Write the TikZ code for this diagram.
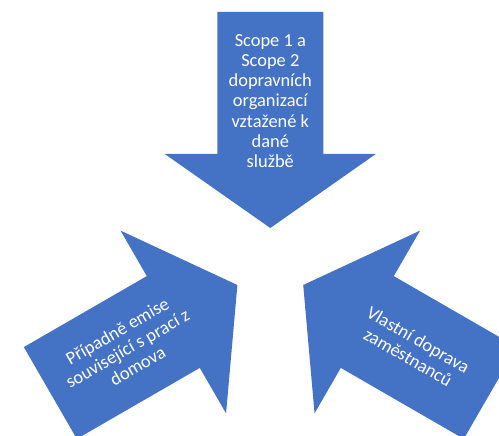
\documentclass[tikz,border=0pt]{standalone}
\usepackage{fontspec}
\setmainfont{Carlito}
\usetikzlibrary{calc}
\definecolor{arrowblue}{RGB}{68,114,196}
\tikzset{
  blockarrow/.pic={
    \fill[arrowblue] (0,0) -- (-74,105.5) -- (-74,53) -- (-216,53) -- (-216,-53)
      -- (-74,-53) -- (-74,-105.5) -- cycle;
  },
  arrowtext/.style={text=white, align=center, inner sep=0pt,
    font=\fontsize{13.8pt}{15.2pt}\selectfont},
}
\begin{document}
\begin{tikzpicture}[x=0.75pt,y=0.75pt]
\path[use as bounding box, clip] (0,0) rectangle (499,435);
\coordinate (c) at (270.3,169);
\coordinate (toptip) at ($(c)+(90:38)$);
\coordinate (lefttip) at ($(c)+(210:38)$);
\coordinate (righttip) at ($(c)+(330:38)$);
\pic[rotate=-90] at (toptip) {blockarrow};
\pic[rotate=30] at (lefttip) {blockarrow};
\pic[rotate=150] at (righttip) {blockarrow};
\node[arrowtext] (toptext) at ($(toptip)+(90:127)$)
  {Scope 1 a\\Scope 2\\dopravních\\organizací\\vztažené k\\dané\\službě};
\node[arrowtext, rotate=30] (lefttext) at ($(lefttip)+(210:127)$)
  {Případně emise\\související s prací z\\domova};
\node[arrowtext, rotate=-30] (righttext) at ($(righttip)+(330:127)$)
  {Vlastní doprava\\zaměstnanců};
\end{tikzpicture}
\end{document}
